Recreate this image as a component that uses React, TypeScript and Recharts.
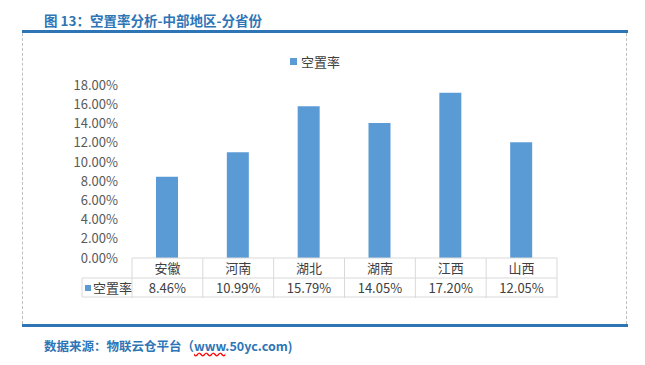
import { Bar, BarChart, XAxis, YAxis } from "recharts";

const provinces = ["安徽", "河南", "湖北", "湖南", "江西", "山西"];
const vacancyRate = [8.46, 10.99, 15.79, 14.05, 17.2, 12.05];
const yTicks = [0, 2, 4, 6, 8, 10, 12, 14, 16, 18];

const chartData = provinces.map((name, i) => ({ name, rate: vacancyRate[i] }));

const BLUE = "#5B9BD5";
const HEAD = "#2E75B6";
const TEXT = "#404040";
const LINE = "#D9D9D9";
const FONT = '"Noto Sans CJK SC", "Noto Sans", sans-serif';

// plot box (px inside the chart svg)
const PLOT_TOP = 85;
const PLOT_LEFT = 132;
const PLOT_RIGHT = 557;
const PLOT_BOTTOM = 258;
const BAND = (PLOT_RIGHT - PLOT_LEFT) / provinces.length;
const ROW = 20;
const KEY_LEFT = 82;
const TABLE_H = 40;

function TableTick(props: any) {
  const { x, index, payload } = props;
  const y0 = PLOT_BOTTOM;
  const value = vacancyRate[index];
  return (
    <g>
      {index === 0 && (
        <g>
          <line x1={x - BAND / 2} x2={x - BAND / 2} y1={y0} y2={y0 + ROW * 2} stroke={LINE} />
          <line x1={KEY_LEFT} x2={PLOT_RIGHT} y1={y0 + ROW} y2={y0 + ROW} stroke={LINE} />
          <line x1={KEY_LEFT} x2={PLOT_RIGHT} y1={y0 + ROW * 2 - 1} y2={y0 + ROW * 2 - 1} stroke={LINE} />
          <line x1={KEY_LEFT} x2={KEY_LEFT} y1={y0 + ROW} y2={y0 + ROW * 2 - 1} stroke={LINE} />
          <rect x={KEY_LEFT + 3} y={y0 + ROW + 7} width={6} height={6} fill={BLUE} />
          <text x={KEY_LEFT + 11} y={y0 + ROW + 15} fontSize={13} fill={TEXT} fontFamily={FONT}>
            空置率
          </text>
        </g>
      )}
      <line x1={x + BAND / 2} x2={x + BAND / 2} y1={y0} y2={y0 + ROW * 2} stroke={LINE} />
      <text x={x} y={y0 + 15} textAnchor="middle" fontSize={13} fill={TEXT} fontFamily={FONT}>
        {payload.value}
      </text>
      <text x={x} y={y0 + ROW + 15} textAnchor="middle" fontSize={13} fill={TEXT} fontFamily={FONT}>
        {value.toFixed(2)}%
      </text>
    </g>
  );
}

export default function App() {
  return (
    <div style={{ position: "absolute", left: 0, top: 0, width: 645, height: 365, background: "#fff", fontFamily: FONT }}>
      <div style={{ position: "absolute", left: 44, top: 10, fontSize: 13.5, fontWeight: "bold", color: HEAD }}>
        图 13：空置率分析-中部地区-分省份
      </div>
      <div style={{ position: "absolute", left: 22, top: 30, width: 606, height: 3, background: HEAD }} />
      <div
        style={{
          position: "absolute",
          left: 22,
          top: 33,
          width: 603,
          height: 291,
          borderLeft: "1px dashed #BFBFBF",
          borderRight: "1px dashed #BFBFBF",
        }}
      />
      <div style={{ position: "absolute", left: 22, top: 324, width: 606, height: 3, background: HEAD }} />
      <div style={{ position: "absolute", left: 44, top: 336, fontSize: 12.5, fontWeight: "bold", color: HEAD }}>
        数据来源：物联云仓平台（<span style={{ textDecoration: "underline wavy red" }}>www</span>.50yc.com)
      </div>
      <div
        style={{
          position: "absolute",
          left: 290,
          top: 52,
          display: "flex",
          alignItems: "center",
          fontSize: 13,
          color: TEXT,
        }}
      >
        <span style={{ width: 7, height: 7, background: BLUE, display: "inline-block", marginRight: 4 }} />
        <span>空置率</span>
      </div>
      <div style={{ position: "absolute", left: 0, top: 0 }}>
        <BarChart
          width={645}
          height={365}
          data={chartData}
          margin={{ top: PLOT_TOP, left: PLOT_LEFT - 60, right: 645 - PLOT_RIGHT, bottom: 365 - PLOT_BOTTOM - TABLE_H }}
          barCategoryGap={0}
        >
          <XAxis
            dataKey="name"
            axisLine={{ stroke: LINE }}
            tickLine={false}
            tick={<TableTick />}
            height={TABLE_H}
            interval={0}
          />
          <YAxis
            width={60}
            domain={[0, 18]}
            ticks={yTicks}
            interval={0}
            axisLine={false}
            tickLine={false}
            tickMargin={8}
            tickFormatter={(v: number) => `${v.toFixed(2)}%`}
            tick={{ fontSize: 13, fill: "#595959", fontFamily: FONT }}
          />
          <Bar dataKey="rate" fill={BLUE} barSize={22} isAnimationActive={false} />
        </BarChart>
      </div>
    </div>
  );
}
